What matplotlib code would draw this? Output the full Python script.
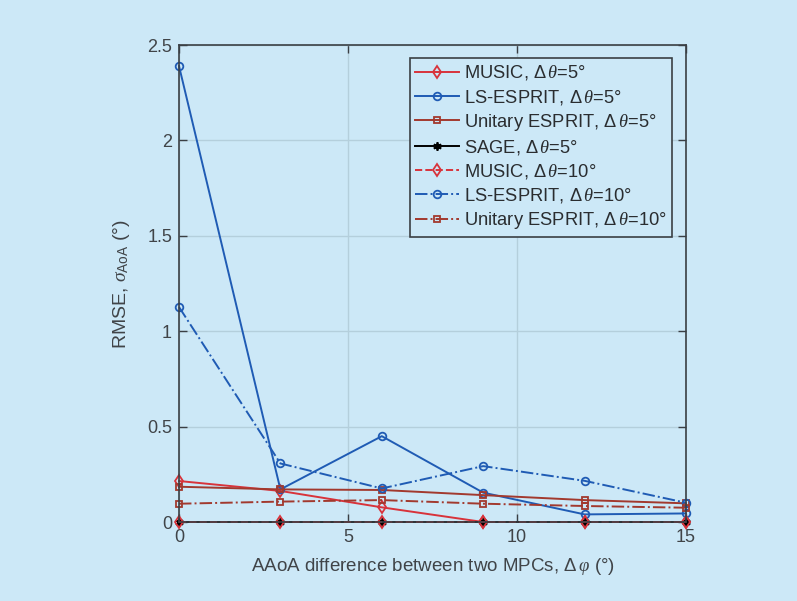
import matplotlib
matplotlib.use("Agg")
import matplotlib.pyplot as plt

plt.rcParams['font.family'] = ['Liberation Sans', 'DejaVu Sans']
plt.rcParams['mathtext.fontset'] = 'custom'
plt.rcParams['mathtext.rm'] = 'Liberation Sans'
plt.rcParams['mathtext.it'] = 'Liberation Serif:italic'
plt.rcParams['mathtext.sf'] = 'Liberation Sans'

x = [0, 3, 6, 9, 12, 15]
music_5 = [0.215, 0.163, 0.077, 0.0, 0.0, 0.0]
lsesprit_5 = [2.39, 0.171, 0.45, 0.154, 0.04, 0.045]
uesprit_5 = [0.185, 0.171, 0.168, 0.141, 0.115, 0.098]
sage_5 = [0.0, 0.0, 0.0, 0.0, 0.0, 0.0]
music_10 = [0.0, 0.0, 0.0, 0.0, 0.0, 0.0]
lsesprit_10 = [1.127, 0.307, 0.176, 0.293, 0.216, 0.101]
uesprit_10 = [0.096, 0.107, 0.115, 0.096, 0.084, 0.075]

labels = [r'MUSIC, $\Delta\,\theta$=5°', r'LS-ESPRIT, $\Delta\,\theta$=5°',
          r'Unitary ESPRIT, $\Delta\,\theta$=5°', r'SAGE, $\Delta\,\theta$=5°',
          r'MUSIC, $\Delta\,\theta$=10°', r'LS-ESPRIT, $\Delta\,\theta$=10°',
          r'Unitary ESPRIT, $\Delta\,\theta$=10°']

bg = '#cce8f7'
red = '#d8333b'
blue = '#1f5bb4'
brown = '#a2392e'

fig = plt.figure(figsize=(7.97, 6.01), dpi=100, facecolor=bg)
ax = fig.add_axes([0.2246, 0.1314, 0.8607 - 0.2246, 0.925 - 0.1314])
ax.set_facecolor(bg)

common = dict(linewidth=1.4, markerfacecolor='none', markeredgewidth=1.3, clip_on=False)
ax.plot(x, music_5, color=red, marker='d', markersize=6, linestyle='-', label=labels[0], **common)
ax.plot(x, lsesprit_5, color=blue, marker='o', markersize=5.5, linestyle='-', label=labels[1], **common)
ax.plot(x, uesprit_5, color=brown, marker='s', markersize=4.8, linestyle='-', label=labels[2], **common)
ax.plot(x, sage_5, color='black', marker=(6, 2, 0), markersize=6, linestyle='-', label=labels[3], **common)
ax.plot(x, music_10, color=red, marker='d', markersize=6, linestyle='--', label=labels[4], **common)
ax.plot(x, lsesprit_10, color=blue, marker='o', markersize=5.5, linestyle='-.', label=labels[5], **common)
ax.plot(x, uesprit_10, color=brown, marker='s', markersize=4.8, linestyle='-.', label=labels[6], **common)

ax.set_xlim(0, 15)
ax.set_ylim(0, 2.5)
ax.set_xticks([0, 5, 10, 15])
ax.set_yticks([0, 0.5, 1, 1.5, 2, 2.5])
ax.set_yticklabels(['0', '0.5', '1', '1.5', '2', '2.5'])
ax.grid(True, color='#b4cfdc', linewidth=1.0)
ax.set_axisbelow(True)
for s in ax.spines.values():
    s.set_color('#3a3f44')
    s.set_linewidth(1.2)
ax.tick_params(direction='in', top=True, right=True, length=6, width=1.0,
               colors='#3a3f44', labelsize=13, labelcolor='#404448', pad=5)

ax.set_xlabel(r'AAoA difference between two MPCs, $\Delta\,\varphi$ (°)', fontsize=13.5, color='#404448', labelpad=7)
ax.set_ylabel(r'RMSE, $\sigma_{\rm AoA}$ (°)', fontsize=14, color='#404448', labelpad=11)

leg = ax.legend(loc='upper right', bbox_to_anchor=(0.9725, 0.973), fontsize=13.2, frameon=True,
                fancybox=False, edgecolor='#3a3f44', facecolor=bg, framealpha=1,
                handlelength=2.4, handletextpad=0.25, borderpad=0.3, labelspacing=0.28,
                borderaxespad=0)
leg.get_frame().set_linewidth(1.2)
for t in leg.get_texts():
    t.set_color('#2a2d30')

fig.savefig('out.png', dpi=100, facecolor=bg)
